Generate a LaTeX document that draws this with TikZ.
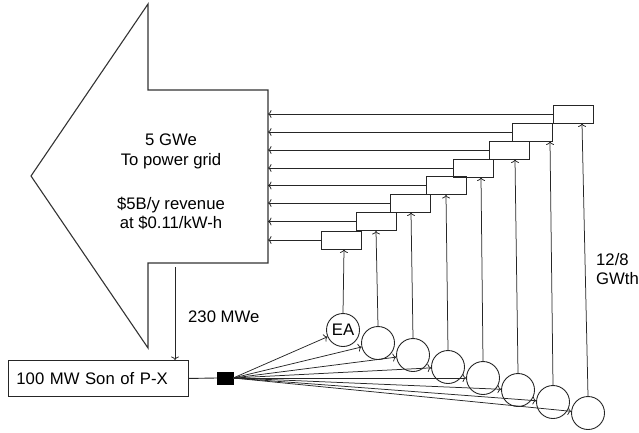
\documentclass[tikz,border=0pt]{standalone}
\usepackage{fontspec}
\setmainfont{Liberation Sans}
\usetikzlibrary{arrows.meta}
\begin{document}
\begin{tikzpicture}[x=1pt,y=-1pt,
  lbl/.style={font=\fontsize{16.7}{19.3}\selectfont, inner sep=0pt},
  gbox/.style={draw=black!85, line width=0.9pt, inner sep=0pt, minimum width=40pt, minimum height=18pt},
  circ/.style={circle, draw=black!85, line width=0.9pt, minimum size=33pt, inner sep=0pt, font=\fontsize{16.7}{19.3}\selectfont},
  arr/.style={draw=black!85, -{To[length=3.5pt,width=8pt]}, line width=0.75pt}]
\useasboundingbox (0,0) rectangle (639,433);
% big arrow to the grid
\draw[draw=black!80, line width=1.1pt] (148,4) -- (148,90) -- (268,90) -- (268,263) -- (148,263) -- (148,348) -- (31,176) -- cycle;
\coordinate (gridedge) at (268,176);
\coordinate (mwtop) at (175,267);
\node[lbl, align=center] (gridtxt) at (171,182) {5 GWe\\To power grid\\[25pt]\$5B/y revenue\\at \$0.11/kW-h};
% Son of P-X
\node[draw=black!85, line width=0.9pt, anchor=north west, minimum height=36pt, text width=164pt, inner xsep=8pt, inner ysep=0pt, align=left, font=\fontsize{16.7}{19.3}\selectfont] (px) at (8,360) {100 MW Son of P-X};
\node[fill=black, draw=black, minimum width=16pt, minimum height=12pt, inner sep=0pt] (sq) at (225,378) {};
\draw[draw=black!85, line width=0.9pt] (px.east) -- (sq.west);
\draw[arr] (mwtop) -- (mwtop |- px.north);
\node[lbl, anchor=west] (mwe) at (188,317) {230 MWe};
% circles
\node[circ] (c1) at (343,330) {EA};
\node[circ] (c2) at (378,343) {};
\node[circ] (c3) at (413,355) {};
\node[circ] (c4) at (448,367) {};
\node[circ] (c5) at (483,378) {};
\node[circ] (c6) at (518,390) {};
\node[circ] (c7) at (553,402) {};
\node[circ] (c8) at (588,413) {};
% boxes
\node[gbox] (b1) at (341.5,240) {};
\node[gbox] (b2) at (376,221.5) {};
\node[gbox] (b3) at (410,203) {};
\node[gbox] (b4) at (446,185.5) {};
\node[gbox] (b5) at (473.5,168) {};
\node[gbox] (b6) at (509,150) {};
\node[gbox] (b7) at (532.5,132) {};
\node[gbox] (b8) at (573,114) {};
% arrows
\foreach \i/\dx in {1/1,2/-2,3/-2,4/-2,5/-2,6/-3,7/-3,8/-6}{
  \draw[arr] (sq.east) -- (c\i);
  \draw[arr] (c\i.north) -- ([xshift=\dx pt]c\i.north |- b\i.south);
  \draw[arr] (b\i.west) -- (b\i.west -| gridedge);
}
\node[lbl, align=left, anchor=west] (gwth) at (596,269) {12/8\\GWth};
\end{tikzpicture}
\end{document}
